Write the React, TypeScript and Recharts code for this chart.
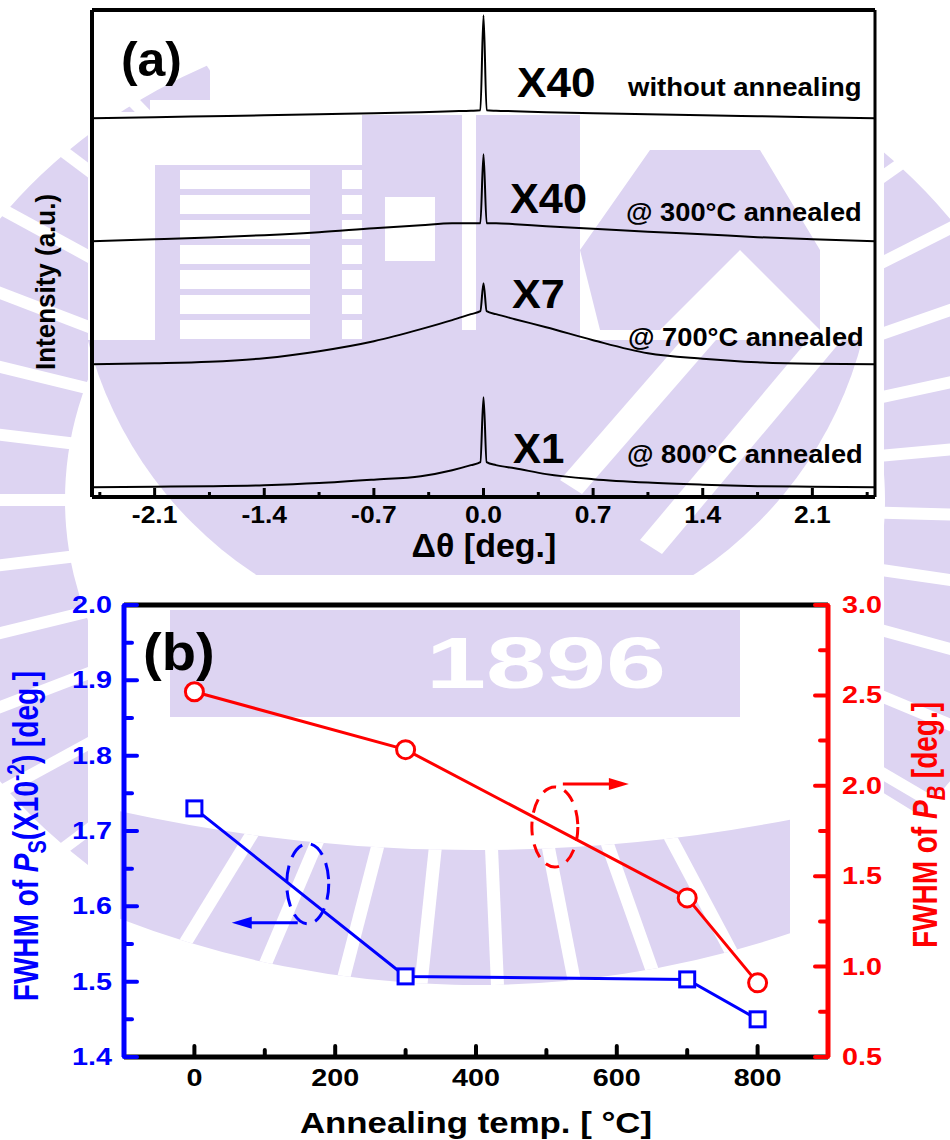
import React from "react";
import { LineChart, Line, XAxis, YAxis, ReferenceLine, ReferenceDot } from "recharts";

const FONT = "'Liberation Sans', Arial, Helvetica, sans-serif";
const BLUE = "#0000ff";
const RED = "#ff0000";
const LAV = "#ddd4f2";

// ---- (a) rocking curves around the substrate peak ----
const dTheta = [-2.5, -2.1, -1.75, -1.4, -1.05, -0.7, -0.4, -0.2, -0.08, -0.02, 0, 0.02, 0.08, 0.2, 0.4, 0.7, 1.05, 1.4, 1.75, 2.1, 2.5];
// intensity above each curve's own baseline (one stacking step = 100 a.u.)
const intNoAnneal = [0, 0.8, 1.6, 2.4, 3.3, 4.1, 4.9, 5.7, 6.1, 6.5, 83.7, 6.5, 6.1, 5.7, 4.9, 4.1, 3.3, 2.4, 1.6, 0.8, 0];
const int300 = [0, 1.6, 3.1, 4.9, 7.3, 10.6, 13.0, 14.6, 14.6, 14.6, 70.7, 14.6, 14.6, 13.8, 12.2, 10.2, 7.7, 5.7, 3.3, 1.6, 0];
const int700 = [0, 0.8, 2.0, 4.9, 10.6, 18.7, 28.5, 35.8, 40.7, 43.1, 65.9, 43.1, 40.7, 36.6, 30.1, 19.5, 8.9, 4.5, 1.6, 0.4, 0];
const int800 = [0, 0.4, 0.8, 1.6, 3.3, 6.1, 8.9, 13.8, 17.9, 20.3, 73.2, 20.3, 17.9, 15.4, 10.6, 6.5, 3.7, 2.0, 0.8, 0.4, 0];
const curveKeys = ["noAnneal", "a300", "a700", "a800"];
const curveSets = [intNoAnneal, int300, int700, int800];
const curveOffsets = [300, 200, 100, 0];
const thetaTicks = [-2.45, -2.1, -1.75, -1.4, -1.05, -0.7, -0.35, 0, 0.35, 0.7, 1.05, 1.4, 1.75, 2.1, 2.45];

// ---- (b) FWHM vs annealing temperature ----
const annealTemp = [0, 300, 700, 800];
const fwhmPs = [1.73, 1.507, 1.503, 1.45];
const fwhmPb = [2.52, 2.2, 1.38, 0.91];
const tempTicks = [0, 100, 200, 300, 400, 500, 600, 700, 800];
const psTicks = [1.4, 1.45, 1.5, 1.55, 1.6, 1.65, 1.7, 1.75, 1.8, 1.85, 1.9, 1.95, 2.0];
const pbTicks = [0.5, 0.75, 1.0, 1.25, 1.5, 1.75, 2.0, 2.25, 2.5, 2.75, 3.0];

const curveRows = dTheta.map((x, i) => {
  const row: Record<string, number> = { x };
  curveKeys.forEach((k, j) => {
    row[k] = curveSets[j][i] + curveOffsets[j];
  });
  return row;
});

const fwhmRows = annealTemp.map((t, i) => ({ t, ps: fwhmPs[i], pb: fwhmPb[i] }));

// bold text, optionally widened and rotated around its anchor
function Txt({ x, y, size, sx = 1, anchor = "start", fill = "#000", rotate = 0, children }: any) {
  const tf = `translate(${x},${y}) scale(${sx},1)` + (rotate ? ` rotate(${rotate})` : "");
  return (
    <text transform={tf} fontFamily={FONT} fontWeight="bold" fontSize={size} textAnchor={anchor} fill={fill}>
      {children}
    </text>
  );
}

// seal geometry (the seal is printed slightly wider than tall)
const SEAL = { cx: 475, cy: 500, rx0: 410, rx1: 580, ry0: 365, ry1: 490 };

const onRing = (rx: number, ry: number, deg: number) => {
  const t = (deg * Math.PI) / 180;
  return [SEAL.cx + rx * Math.cos(t), SEAL.cy + ry * Math.sin(t)];
};

function GearArc({ from, to, clip }: { from: number; to: number; clip?: string }) {
  const { rx0, rx1, ry0, ry1 } = SEAL;
  const [ax, ay] = onRing(rx1, ry1, from);
  const [bx, by] = onRing(rx1, ry1, to);
  const [cx, cy] = onRing(rx0, ry0, to);
  const [dx, dy] = onRing(rx0, ry0, from);
  const big = to - from > 180 ? 1 : 0;
  const d = `M ${ax} ${ay} A ${rx1} ${ry1} 0 ${big} 1 ${bx} ${by} L ${cx} ${cy} A ${rx0} ${ry0} 0 ${big} 0 ${dx} ${dy} Z`;
  const slits = [];
  for (let a = from + 5; a < to; a += 9) {
    const [px, py] = onRing(rx0 - 5, ry0 - 5, a);
    const [qx, qy] = onRing(rx1 + 5, ry1 + 5, a);
    slits.push(<line key={a} x1={px} y1={py} x2={qx} y2={qy} stroke="#fff" strokeWidth={12} />);
  }
  return (
    <g clipPath={clip}>
      <path d={d} fill={LAV} />
      {slits}
    </g>
  );
}

// lower rim of the seal: a shallow band of teeth under the year banner
function BottomTeeth() {
  const yOut = (x: number) => Math.sqrt(985 * 985 - (x - 475) ** 2);
  const yIn = (x: number) => -800 + Math.sqrt(1650 * 1650 - (x - 475) ** 2);
  const band = `M 120 ${yOut(120)} A 985 985 0 0 0 790 ${yOut(790)} L 790 ${yIn(790)} A 1650 1650 0 0 1 120 ${yIn(120)} Z`;
  const slits = [];
  for (let a = 62; a <= 122; a += 8.5) {
    const t = (a * Math.PI) / 180;
    slits.push(
      <line key={a} x1={475} y1={470} x2={475 + 700 * Math.cos(t)} y2={470 + 700 * Math.sin(t)} stroke="#fff" strokeWidth={13} />
    );
  }
  return (
    <g>
      <defs>
        <clipPath id="sealBottom">
          <path d={band} />
        </clipPath>
      </defs>
      <g clipPath="url(#sealBottom)">
        <rect x={100} y={780} width={720} height={230} fill={LAV} />
        {slits}
      </g>
    </g>
  );
}

// faint university seal printed behind the figure
function Watermark() {
  const stripes = [];
  for (let y = 170; y < 340; y += 25) {
    stripes.push(<rect key={`e${y}`} x={180} y={y} width={130} height={19} fill="#fff" />);
    stripes.push(<rect key={`f${y}`} x={342} y={y} width={20} height={19} fill="#fff" />);
  }
  return (
    <svg width={950} height={1140} style={{ position: "absolute", left: 0, top: 0 }}>
      <defs>
        <clipPath id="sealInner">
          <circle cx={475} cy={240} r={400} />
        </clipPath>
        <clipPath id="sealRight">
          <rect x={884} y={0} width={70} height={1140} />
        </clipPath>
        <clipPath id="sealLeft">
          <rect x={0} y={0} width={88} height={1140} />
          <rect x={0} y={0} width={210} height={112} />
        </clipPath>
      </defs>
      <BottomTeeth />
      <GearArc from={-75} to={40} clip="url(#sealRight)" />
      <GearArc from={130} to={252} clip="url(#sealLeft)" />
      <g clipPath="url(#sealInner)">
        <rect x={155} y={115} width={425} height={230} fill={LAV} />
        <rect x={60} y={340} width={840} height={235} fill={LAV} />
        <rect x={150} y={100} width={212} height={65} fill="#fff" />
        {stripes}
        <rect x={385} y={197} width={50} height={64} fill="#fff" />
        <rect x={462} y={100} width={14} height={230} fill="#fff" />
        <path d="M 560 480 L 760 250 L 782 264 L 582 494 Z" fill="#fff" />
        <path d="M 640 540 L 850 290 L 872 304 L 662 554 Z" fill="#fff" />
      </g>
      <path d="M 580 250 L 650 150 L 760 150 L 820 250 L 820 330 L 740 250 L 660 330 L 600 330 Z" fill={LAV} />
      <rect x={170} y={610} width={570} height={107} fill={LAV} />
      <Txt x={546} y={688} size={72} sx={1.5} anchor="middle" fill="#fff">
        1896
      </Txt>
    </svg>
  );
}

const ThetaTick = (p: any) => {
  const v = p.payload.value;
  const major = Math.abs(Math.round(v * 100)) % 70 === 0;
  return (
    <g>
      <line x1={p.x} y1={p.y} x2={p.x} y2={p.y - (major ? 9 : 5)} stroke="#000" strokeWidth={3} />
      {major && (
        <Txt x={p.x} y={p.y + 26} size={23} sx={1.15} anchor="middle">
          {v.toFixed(1)}
        </Txt>
      )}
    </g>
  );
};

const TempTick = (p: any) => {
  const v = p.payload.value;
  const major = v % 200 === 0;
  return (
    <g>
      <line x1={p.x} y1={p.y} x2={p.x} y2={p.y - (major ? 11 : 7)} stroke="#000" strokeWidth={4} strokeLinecap="round" />
      {major && (
        <Txt x={p.x} y={p.y + 29} size={23} sx={1.25} anchor="middle">
          {v}
        </Txt>
      )}
    </g>
  );
};

const PsTick = (p: any) => {
  const v = p.payload.value;
  const major = Math.round(v * 100) % 10 === 0;
  return (
    <g>
      <line x1={p.x} y1={p.y} x2={p.x + (major ? 13 : 8)} y2={p.y} stroke={BLUE} strokeWidth={4} strokeLinecap="round" />
      {major && (
        <Txt x={p.x - 12} y={p.y + 8} size={23} sx={1.25} anchor="end" fill={BLUE}>
          {v.toFixed(1)}
        </Txt>
      )}
    </g>
  );
};

const PbTick = (p: any) => {
  const v = p.payload.value;
  const major = Math.round(v * 100) % 50 === 0;
  return (
    <g>
      <line x1={p.x} y1={p.y} x2={p.x - (major ? 13 : 8)} y2={p.y} stroke={RED} strokeWidth={4} strokeLinecap="round" />
      {major && (
        <Txt x={p.x + 14} y={p.y + 8} size={23} sx={1.25} anchor="start" fill={RED}>
          {v.toFixed(1)}
        </Txt>
      )}
    </g>
  );
};

const SquareDot = (p: any) => (
  <rect key={`sq-${p.index}`} x={p.cx - 7.5} y={p.cy - 7.5} width={15} height={15} fill="#fff" stroke={BLUE} strokeWidth={3} />
);

const CircleDot = (p: any) => (
  <circle key={`ci-${p.index}`} cx={p.cx} cy={p.cy} r={9} fill="#fff" stroke={RED} strokeWidth={3} />
);

// dashed ellipse around a series with an arrow pointing to its axis
const BlueMark = (p: any) => {
  const { cx, cy } = p;
  const ay = cy + 39;
  return (
    <g>
      <ellipse cx={cx} cy={cy} rx={21} ry={40} fill="none" stroke={BLUE} strokeWidth={3} strokeDasharray="16 9" />
      <line x1={cx - 10} y1={ay} x2={cx - 62} y2={ay} stroke={BLUE} strokeWidth={3} />
      <polygon points={`${cx - 76},${ay} ${cx - 56},${ay - 6} ${cx - 56},${ay + 6}`} fill={BLUE} />
    </g>
  );
};

const RedMark = (p: any) => {
  const { cx, cy } = p;
  const ay = cy - 43;
  return (
    <g>
      <ellipse cx={cx} cy={cy} rx={23} ry={40} fill="none" stroke={RED} strokeWidth={3} strokeDasharray="14 9" />
      <line x1={cx + 8} y1={ay} x2={cx + 60} y2={ay} stroke={RED} strokeWidth={3} />
      <polygon points={`${cx + 74},${ay} ${cx + 54},${ay - 6} ${cx + 54},${ay + 6}`} fill={RED} />
    </g>
  );
};

export default function App() {
  return (
    <div style={{ position: "relative", width: 950, height: 1140, background: "#fff", overflow: "hidden" }}>
      <style>{"body{margin:0}"}</style>
      <Watermark />

      <div style={{ position: "absolute", left: 0, top: 0 }}>
        <LineChart width={950} height={580} data={curveRows} margin={{ top: 10, right: 75, bottom: 43, left: 92 }}>
          <XAxis
            type="number"
            dataKey="x"
            domain={[-2.5, 2.5]}
            ticks={thetaTicks}
            interval={0}
            height={40}
            tickSize={0}
            tickMargin={0}
            tickLine={false}
            axisLine={{ stroke: "#000", strokeWidth: 4 }}
            tick={(p: any) => <ThetaTick {...p} />}
          />
          <YAxis hide type="number" domain={[-8, 388]} allowDataOverflow />
          <ReferenceLine x={-2.5} stroke="#000" strokeWidth={4} />
          <ReferenceLine x={2.5} stroke="#000" strokeWidth={3} />
          <ReferenceLine y={388} stroke="#000" strokeWidth={4} />
          {curveKeys.map((k) => (
            <Line key={k} type="monotone" dataKey={k} stroke="#000" strokeWidth={2} dot={false} isAnimationActive={false} />
          ))}
        </LineChart>
      </div>

      <div style={{ position: "absolute", left: 0, top: 580 }}>
        <LineChart width={950} height={560} data={fwhmRows} margin={{ top: 25, right: 62, bottom: 43, left: 64 }}>
          <XAxis
            type="number"
            dataKey="t"
            domain={[-100, 900]}
            ticks={tempTicks}
            interval={0}
            height={40}
            tickSize={0}
            tickMargin={0}
            tickLine={false}
            axisLine={{ stroke: "#000", strokeWidth: 5 }}
            tick={(p: any) => <TempTick {...p} />}
          />
          <YAxis
            yAxisId="ps"
            type="number"
            domain={[1.4, 2.0]}
            ticks={psTicks}
            interval={0}
            width={60}
            tickSize={0}
            tickMargin={0}
            tickLine={false}
            axisLine={{ stroke: BLUE, strokeWidth: 5 }}
            tick={(p: any) => <PsTick {...p} />}
          />
          <YAxis
            yAxisId="pb"
            orientation="right"
            type="number"
            domain={[0.5, 3.0]}
            ticks={pbTicks}
            interval={0}
            width={60}
            tickSize={0}
            tickMargin={0}
            tickLine={false}
            axisLine={{ stroke: RED, strokeWidth: 5 }}
            tick={(p: any) => <PbTick {...p} />}
          />
          <ReferenceLine yAxisId="ps" y={2.0} stroke="#000" strokeWidth={5} />
          <Line yAxisId="ps" type="linear" dataKey="ps" stroke={BLUE} strokeWidth={3} dot={SquareDot} isAnimationActive={false} />
          <Line yAxisId="pb" type="linear" dataKey="pb" stroke={RED} strokeWidth={3} dot={CircleDot} isAnimationActive={false} />
          <ReferenceDot yAxisId="ps" x={161} y={1.63} shape={(p: any) => <BlueMark {...p} />} />
          <ReferenceDot yAxisId="pb" x={512} y={1.772} shape={(p: any) => <RedMark {...p} />} />
        </LineChart>
      </div>

      <svg width={950} height={1140} style={{ position: "absolute", left: 0, top: 0, pointerEvents: "none" }}>
        <Txt x={121} y={76} size={48} sx={1.04}>(a)</Txt>
        <Txt x={517} y={97} size={42} sx={1.05}>X40</Txt>
        <Txt x={628} y={96} size={25} sx={1.1}>without annealing</Txt>
        <Txt x={510} y={213} size={42} sx={1.03}>X40</Txt>
        <Txt x={626} y={221} size={25} sx={1.09}>@ 300°C annealed</Txt>
        <Txt x={512} y={308} size={40} sx={1.08}>X7</Txt>
        <Txt x={628} y={346} size={25} sx={1.09}>@ 700°C annealed</Txt>
        <Txt x={513} y={463} size={42} sx={1.0}>X1</Txt>
        <Txt x={627} y={463} size={25} sx={1.09}>@ 800°C annealed</Txt>
        <Txt x={484} y={557} size={34} anchor="middle">Δθ [deg.]</Txt>
        <Txt x={55} y={282} size={26} sx={1.05} anchor="middle" rotate={-90}>Intensity (a.u.)</Txt>

        <Txt x={143} y={670} size={51} sx={1.1}>(b)</Txt>
        <Txt x={476} y={1133} size={30} sx={1.16} anchor="middle">Annealing temp. [ °C]</Txt>
        <Txt x={38} y={836} size={28} sx={1.25} anchor="middle" rotate={-90} fill={BLUE}>
          FWHM of <tspan fontStyle="italic">P</tspan>
          <tspan dy={6} fontSize={20}>S</tspan>
          <tspan dy={-6}>(X10</tspan>
          <tspan dy={-11} fontSize={19}>-2</tspan>
          <tspan dy={11}>) [deg.]</tspan>
        </Txt>
        <Txt x={937} y={825} size={28} sx={1.25} anchor="middle" rotate={-90} fill={RED}>
          FWHM of <tspan fontStyle="italic">P</tspan>
          <tspan dy={6} fontSize={20} fontStyle="italic">B</tspan>
          <tspan dy={-6}> [deg.]</tspan>
        </Txt>
      </svg>
    </div>
  );
}
